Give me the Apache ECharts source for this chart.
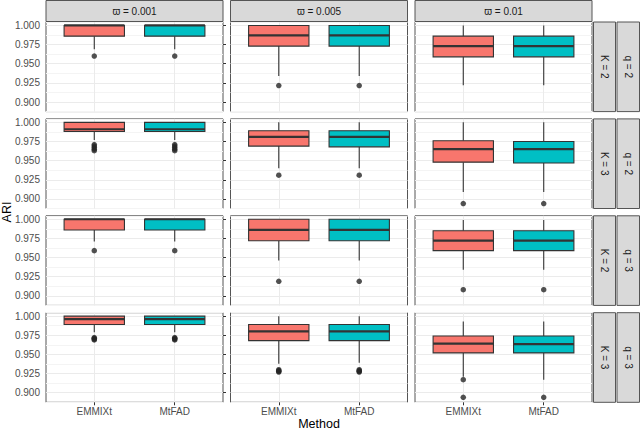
<!DOCTYPE html>
<html>
<head>
<meta charset="utf-8">
<script src="https://cdn.jsdelivr.net/npm/echarts@6/dist/echarts.min.js"></script>
<style>
  html, body { margin: 0; padding: 0; background: #fff; }
  #chart { width: 640px; height: 430px; }
</style>
</head>
<body>
<div id="chart"></div>
<script>
var methods = ['EMMIXt', 'MtFAD'];
var omegaLabels = ['ϖ = 0.001', 'ϖ = 0.005', 'ϖ = 0.01'];
var kLabels = ['K = 2', 'K = 3', 'K = 2', 'K = 3'];
var qLabels = ['q = 2', 'q = 2', 'q = 3', 'q = 3'];
var yTicks = [0.900, 0.925, 0.950, 0.975, 1.000];

// [panel][method] = [lower whisker, Q1, median, Q3, upper whisker]
var boxQ2K2 = [
  [[0.969, 0.986, 1.000, 1.000, 1.000], [0.969, 0.986, 1.000, 1.000, 1.000]],
  [[0.934, 0.973, 0.987, 1.000, 1.000], [0.934, 0.973, 0.987, 1.000, 1.000]],
  [[0.922, 0.959, 0.973, 0.986, 1.000], [0.922, 0.959, 0.973, 0.986, 1.000]]
];
var boxQ2K3 = [
  [[0.977, 0.988, 0.991, 1.000, 1.000], [0.977, 0.988, 0.991, 1.000, 1.000]],
  [[0.940, 0.969, 0.981, 0.989, 1.000], [0.940, 0.968, 0.981, 0.989, 1.000]],
  [[0.909, 0.948, 0.965, 0.976, 1.000], [0.909, 0.947, 0.965, 0.975, 1.000]]
];
var boxQ3K2 = [
  [[0.971, 0.986, 1.000, 1.000, 1.000], [0.971, 0.986, 1.000, 1.000, 1.000]],
  [[0.946, 0.972, 0.986, 1.000, 1.000], [0.946, 0.972, 0.986, 1.000, 1.000]],
  [[0.934, 0.959, 0.972, 0.985, 0.999], [0.934, 0.959, 0.972, 0.985, 0.999]]
];
var boxQ3K3 = [
  [[0.979, 0.989, 0.996, 1.000, 1.000], [0.979, 0.989, 0.996, 1.000, 1.000]],
  [[0.938, 0.968, 0.980, 0.989, 1.000], [0.939, 0.968, 0.980, 0.989, 1.000]],
  [[0.921, 0.952, 0.964, 0.974, 0.993], [0.917, 0.952, 0.9635, 0.974, 0.993]]
];

// [panel][method] = outlier values
var outQ2K2 = [[[0.960], [0.960]], [[0.9215], [0.9215]], [[], []]];
var outQ2K3 = [
  [[0.963, 0.965, 0.967, 0.969, 0.971], [0.963, 0.965, 0.967, 0.969, 0.971]],
  [[0.931], [0.931]],
  [[0.894], [0.894]]
];
var outQ3K2 = [[[0.959], [0.959]], [[0.919], [0.919]], [[0.908], [0.908]]];
var outQ3K3 = [
  [[0.969, 0.970, 0.971, 0.972], [0.969, 0.970, 0.971, 0.972]],
  [[0.927, 0.928, 0.929, 0.930], [0.927, 0.928, 0.929, 0.930]],
  [[0.917, 0.894], [0.894]]
];

var boxRows = [boxQ2K2, boxQ2K3, boxQ3K2, boxQ3K3];
var outRows = [outQ2K2, outQ2K3, outQ3K2, outQ3K3];

var fills = ['#F8766D', '#00BFC4'];
var ink = '#333333';
var font = 'Liberation Sans';
var edge = '#555555';

// discrete x scale 0.4..2.6 in steps of 0.2, methods sit on 1 and 2
var xCats = ['', '', '', methods[0], '', '', '', '', methods[1], '', '', ''];
var methodPos = [3, 8];
function onMethod(i) { return i === 3 || i === 8; }

var left0 = 46, pw = 177, colStep = 184.5;
var top0 = 22, ph = 89.6, rowStep = 96.9;
var yMin = 0.8875, yMax = 1.0045;

function renderBox(params, api) {
  var x = api.value(0);
  var lo = api.coord([x, api.value(1)]);
  var q1 = api.coord([x, api.value(2)]);
  var md = api.coord([x, api.value(3)]);
  var q3 = api.coord([x, api.value(4)]);
  var hi = api.coord([x, api.value(5)]);
  var step = api.coord([x + 1, api.value(3)])[0] - md[0];
  var half = step * 1.875;
  var cx = md[0];
  return {
    type: 'group',
    children: [
      { type: 'line', shape: { x1: cx, y1: hi[1], x2: cx, y2: q3[1] }, style: { stroke: ink, lineWidth: 1.1 } },
      { type: 'line', shape: { x1: cx, y1: q1[1], x2: cx, y2: lo[1] }, style: { stroke: ink, lineWidth: 1.1 } },
      { type: 'rect', shape: { x: cx - half, y: q3[1], width: half * 2, height: q1[1] - q3[1] },
        style: { fill: fills[api.value(6)], stroke: ink, lineWidth: 1.1 } },
      { type: 'line', shape: { x1: cx - half, y1: md[1], x2: cx + half, y2: md[1] }, style: { stroke: ink, lineWidth: 2.2 } }
    ]
  };
}

var grids = [], xAxes = [], yAxes = [], series = [], graphics = [];
var g = 0;
for (var r = 0; r < 4; r++) {
  for (var c = 0; c < 3; c++) {
    var gl = left0 + c * colStep, gt = top0 + r * rowStep;
    grids.push({ left: gl, top: gt, width: pw, height: ph, show: true,
      borderColor: edge, borderWidth: 1, backgroundColor: '#fff' });
    xAxes.push({
      gridIndex: g, type: 'category', data: xCats, boundaryGap: false,
      axisLine: { show: false },
      axisTick: { show: r === 3, interval: onMethod, length: 3, lineStyle: { color: ink } },
      axisLabel: { show: r === 3, interval: onMethod, color: '#4d4d4d', fontSize: 10, fontFamily: font, margin: 4 },
      splitLine: { show: true, interval: onMethod, lineStyle: { color: '#ebebeb', width: 1 } }
    });
    var yi = yAxes.length;
    yAxes.push({
      gridIndex: g, type: 'value', min: yMin, max: yMax, interval: 0.0125,
      axisLine: { show: false }, axisTick: { show: false },
      axisLabel: {
        show: c === 0, color: '#4d4d4d', fontSize: 10, fontFamily: font, margin: 6,
        formatter: function (v) { return Math.round(v * 10000) % 250 === 0 ? v.toFixed(3) : ''; }
      },
      splitLine: { show: true, lineStyle: { color: ['#f4f4f4', '#ebebeb'], width: 1 } }
    });
    if (c === 0) {
      yAxes.push({
        gridIndex: g, type: 'value', min: yMin, max: yMax, interval: 0.0125,
        axisLine: { show: false }, axisLabel: { show: false }, splitLine: { show: false },
        axisTick: { show: true, length: 3, customValues: yTicks, lineStyle: { color: ink } }
      });
    }
    var boxData = [], outData = [];
    for (var m = 0; m < 2; m++) {
      var s = boxRows[r][c][m];
      boxData.push([methodPos[m], s[0], s[1], s[2], s[3], s[4], m]);
      outRows[r][c][m].forEach(function (v) { outData.push([methodPos[m], v]); });
    }
    series.push({
      type: 'custom', xAxisIndex: g, yAxisIndex: yi, data: boxData,
      encode: { x: 0, y: [1, 2, 3, 4, 5] }, renderItem: renderBox, silent: true, z: 3
    });
    series.push({
      type: 'scatter', xAxisIndex: g, yAxisIndex: yi, data: outData,
      symbolSize: 5.5, itemStyle: { color: '#262626' }, silent: true, z: 4
    });
    g++;
  }
}

// top strips
for (var c2 = 0; c2 < 3; c2++) {
  var sx = left0 + c2 * colStep;
  graphics.push({ type: 'rect', shape: { x: sx, y: 0.5, width: pw, height: 21 },
    style: { fill: '#d9d9d9', stroke: edge, lineWidth: 1 } });
  graphics.push({ type: 'text', x: sx + pw / 2, y: 11,
    style: { text: omegaLabels[c2], font: '10px "' + font + '"', fill: '#1a1a1a', align: 'center', verticalAlign: 'middle' } });
}
// right strips
for (var r2 = 0; r2 < 4; r2++) {
  var sy = top0 + r2 * rowStep;
  graphics.push({ type: 'rect', shape: { x: 593.5, y: sy, width: 22, height: ph },
    style: { fill: '#d9d9d9', stroke: edge, lineWidth: 1 } });
  graphics.push({ type: 'rect', shape: { x: 617, y: sy, width: 22.5, height: ph },
    style: { fill: '#d9d9d9', stroke: edge, lineWidth: 1 } });
  graphics.push({ type: 'text', x: 604.5, y: sy + ph / 2, rotation: -Math.PI / 2,
    style: { text: kLabels[r2], font: '10px "' + font + '"', fill: '#1a1a1a', align: 'center', verticalAlign: 'middle' } });
  graphics.push({ type: 'text', x: 628.25, y: sy + ph / 2, rotation: -Math.PI / 2,
    style: { text: qLabels[r2], font: '10px "' + font + '"', fill: '#1a1a1a', align: 'center', verticalAlign: 'middle' } });
}
// axis titles
graphics.push({ type: 'text', x: 7, y: 212, rotation: Math.PI / 2,
  style: { text: 'ARI', font: '12.5px "' + font + '"', fill: '#000', align: 'center', verticalAlign: 'middle' } });
graphics.push({ type: 'text', x: 319, y: 424,
  style: { text: 'Method', font: '12.5px "' + font + '"', fill: '#000', align: 'center', verticalAlign: 'middle' } });

var chart = echarts.init(document.getElementById('chart'), null, { renderer: 'svg' });
chart.setOption({
  animation: false,
  grid: grids,
  xAxis: xAxes,
  yAxis: yAxes,
  series: series,
  graphic: graphics
});
window.addEventListener('resize', function () { chart.resize(); });
</script>
</body>
</html>
